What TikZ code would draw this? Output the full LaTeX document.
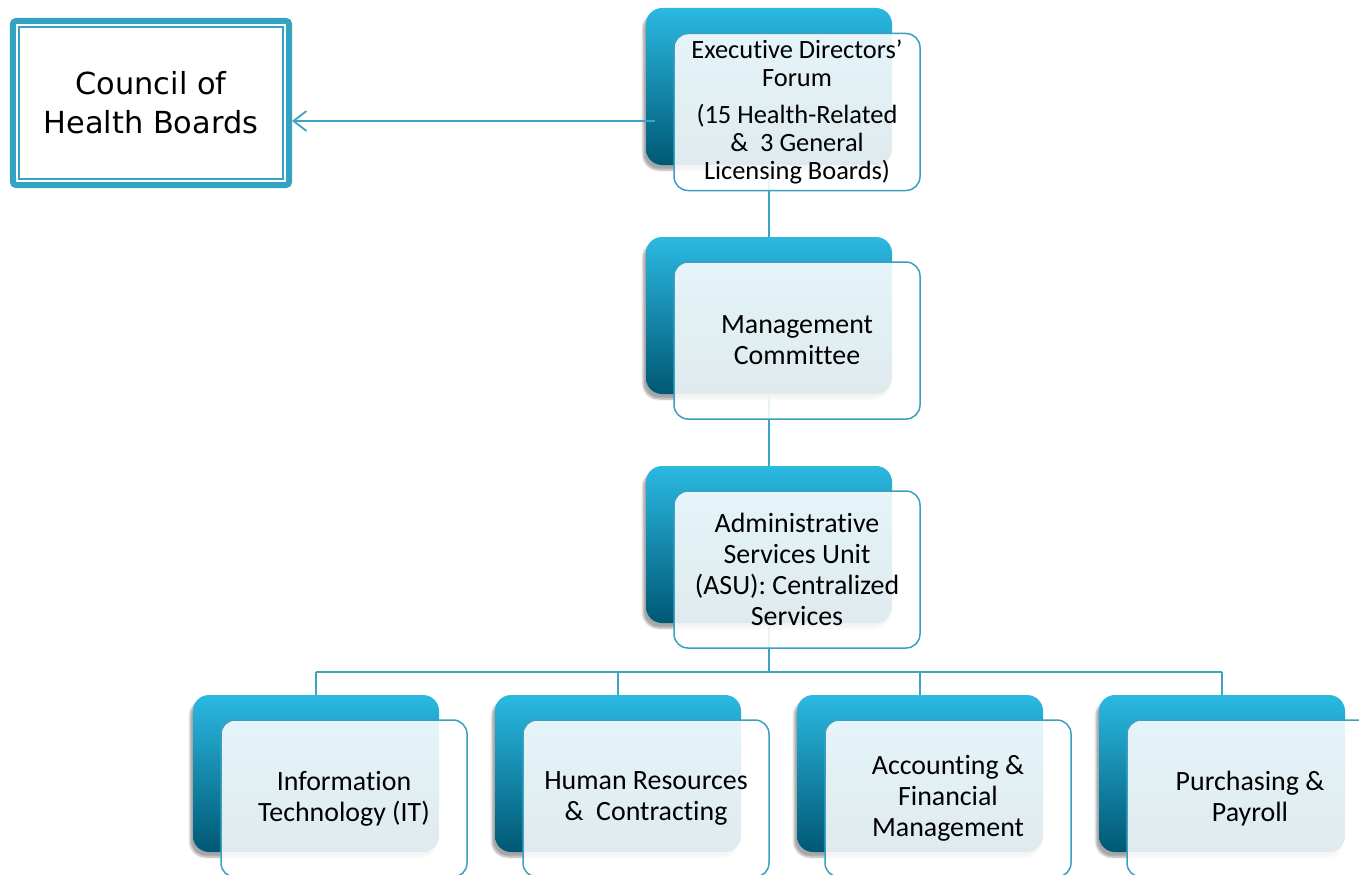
\documentclass[tikz,border=0pt]{standalone}
\usepackage{fontspec}
\setmainfont{Carlito}[Ligatures={NoCommon,NoContextual},Contextuals=NoAlternate]
\newfontfamily\councilfont{DejaVu Sans}
\usetikzlibrary{shadows.blur,arrows.meta}
\definecolor{topc}{RGB}{43,185,226}
\definecolor{botc}{RGB}{0,88,116}
\definecolor{linec}{RGB}{60,164,194}
\definecolor{framec}{RGB}{58,160,192}
\definecolor{councilc}{RGB}{50,163,192}
\begin{document}
\begin{tikzpicture}[x=1bp, y=-1bp,
  back/.style={rectangle, rounded corners=16bp, minimum width=246bp, minimum height=157bp,
    top color=topc, bottom color=botc, draw=none, inner sep=0pt,
    blur shadow={shadow xshift=-3bp, shadow yshift=-5bp, shadow opacity=35, shadow blur steps=6}},
  front/.style={rectangle, rounded corners=14bp, minimum width=246bp, minimum height=157bp,
    draw=framec, line width=1.5bp, fill=white, fill opacity=0.88, text opacity=1,
    align=center, font=\fontsize{28}{31}\selectfont, inner sep=0pt},
  conn/.style={draw=linec, line width=1.8bp},
  council/.style={rectangle, rounded corners=3bp, minimum width=276bp, minimum height=164bp,
    draw=councilc, line width=6bp, fill=white, align=center,
    font=\councilfont\fontsize{30.5}{39}\selectfont}]
\useasboundingbox (0,0) rectangle (1359,874);
\clip (0,0) rectangle (1359,874);

% back boxes
\node[back] (b1) at (769,86.5) {};
\node[back] (b2) at (769,315.5) {};
\node[back] (b3) at (769,544.5) {};
\node[back] (b4) at (316,773.5) {};
\node[back] (b5) at (618,773.5) {};
\node[back] (b6) at (920,773.5) {};
\node[back] (b7) at (1222,773.5) {};

% council
\node[council] (council) at (151,103) {Council of\\Health Boards};
\draw[councilc, line width=1.2bp] ([xshift=9bp,yshift=-9bp]council.north west) rectangle ([xshift=-9bp,yshift=9bp]council.south east);

% connectors
\coordinate (a0) at (655,121);
\draw[conn, -{Straight Barb[length=13bp,width=20bp]}] (a0) -- (a0 -| council.east);
\draw[conn] (b1.south) -- (b2.north);
\draw[conn] (b2.south) -- (b3.north);
\coordinate (bus) at (769,672);
\draw[conn] (b3.south) -- (bus);
\draw[conn] (b4.north |- bus) -- (b7.north |- bus);
\draw[conn] (b4.north |- bus) -- (b4.north);
\draw[conn] (b5.north |- bus) -- (b5.north);
\draw[conn] (b6.north |- bus) -- (b6.north);
\draw[conn] (b7.north |- bus) -- (b7.north);

% front boxes
\node[front, font=\fontsize{26.5}{28}\selectfont] (f1) at (797,112) {Executive Directors'\\Forum\\[9bp](15 Health-Related\\\&\ \ 3 General\\Licensing Boards)};
\node[front] (f2) at (797,340.5) {Management\\Committee};
\node[front] (f3) at (797,569.5) {Administrative\\Services Unit\\(ASU): Centralized\\Services};
\node[front] (f4) at (344,798.5) {Information\\Technology (IT)};
\node[front] (f5) at (646,798.5) {Human Resources\\\&\ \ Contracting};
\node[front] (f6) at (948,798.5) {Accounting \&\\Financial\\Management};
\node[front] (f7) at (1250,798.5) {Purchasing \&\\Payroll};
\end{tikzpicture}
\end{document}
